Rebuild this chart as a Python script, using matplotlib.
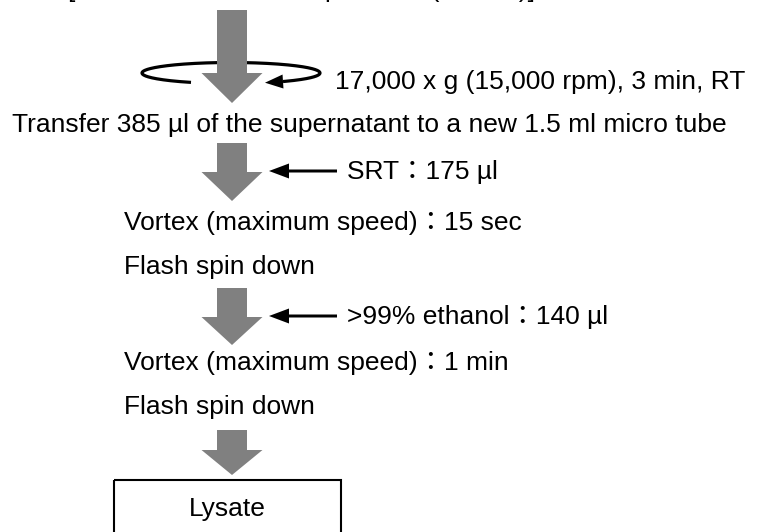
import numpy as np
import matplotlib.pyplot as plt
from matplotlib.patches import FancyArrow, Rectangle, Polygon

# step texts (top to bottom)
top_cut_text = "[Incubate at room temperature (10 min)]"
spin_text = "17,000 x g (15,000 rpm), 3 min, RT"
transfer_text = "Transfer 385 µl of the supernatant to a new 1.5 ml micro tube"
add_texts = ["SRT：175 µl", ">99% ethanol：140 µl"]
mix_texts = ["Vortex (maximum speed)：15 sec", "Flash spin down",
             "Vortex (maximum speed)：1 min", "Flash spin down"]
result_text = "Lysate"

# layout (pixel units, y downwards)
W, H = 761, 532
cx = 232
big_arrows = [(10, 103, 30), (143, 201, 29), (288, 345, 28), (430, 475, 25)]
add_y = [171, 316]
mix_left = 124
mix_base = [230, 274, 370, 414]

arrow_grey = '#808080'
fam = ['Liberation Sans', 'Noto Sans CJK JP']
fs = 19


def main():
    fig = plt.figure(figsize=(W / 100, H / 100), dpi=100)
    ax = fig.add_axes([0, 0, 1, 1])
    ax.set_xlim(0, W)
    ax.set_ylim(H, 0)
    ax.axis('off')

    txt = dict(family=fam, fontsize=fs, color='black', va='baseline')

    # line above, mostly out of frame
    ax.text(68, -3, top_cut_text, **txt)

    # big grey flow arrows
    for top, tip, head in big_arrows:
        ax.add_patch(FancyArrow(cx, top, 0, tip - top, width=30,
                                head_width=61, head_length=head,
                                length_includes_head=True,
                                color=arrow_grey, lw=0, zorder=3))

    # centrifuge rotation mark
    ecx, ecy, ea, eb = 231, 73, 89, 10.5
    t0 = np.arccos((191 - ecx) / ea)
    t_tip = 2 * np.pi + np.arccos((265 - ecx) / ea)
    t_end = 2 * np.pi + np.arccos((283 - ecx) / ea)
    t = np.linspace(t0, t_end, 300)
    ax.plot(ecx + ea * np.cos(t), ecy + eb * np.sin(t),
            color='black', lw=2.3, solid_capstyle='butt', zorder=2)
    tip = np.array([ecx + ea * np.cos(t_tip), ecy + eb * np.sin(t_tip)])
    base = np.array([ecx + ea * np.cos(t_end), ecy + eb * np.sin(t_end)])
    d = (tip - base) / np.linalg.norm(tip - base)
    n = np.array([-d[1], d[0]])
    ax.add_patch(Polygon([tip, base + n * 7, base - n * 7],
                         closed=True, color='black', lw=0, zorder=2))
    ax.text(335, 89, spin_text, **txt)

    ax.text(12, 132, transfer_text, **txt)

    # reagent additions
    for y, label in zip(add_y, add_texts):
        ax.add_patch(FancyArrow(337, y, -68, 0, width=3, head_width=15,
                                head_length=20, length_includes_head=True,
                                color='black', lw=0))
        ax.text(347, y + 8, label, **txt)

    for y, label in zip(mix_base, mix_texts):
        ax.text(mix_left, y, label, **txt)

    # result box
    ax.add_patch(Rectangle((114, 480), 227, 80, fill=False,
                           edgecolor='black', lw=1.5))
    ax.text(227.5, 516, result_text, ha='center', **txt)

    fig.savefig('out.png', dpi=100)


if __name__ == '__main__':
    main()
